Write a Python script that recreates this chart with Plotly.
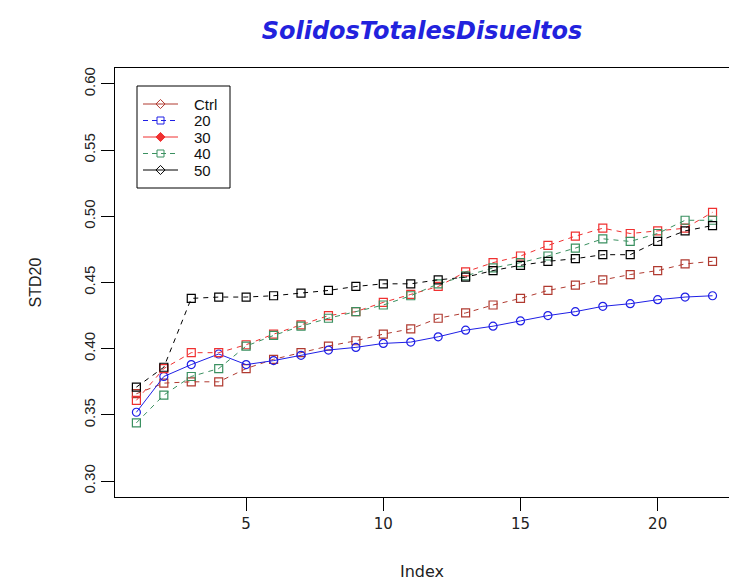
import plotly.graph_objects as go

index = list(range(1, 23))
ctrl = [0.366, 0.374, 0.375, 0.375, 0.385, 0.392, 0.397, 0.402, 0.406, 0.411, 0.415, 0.423, 0.427, 0.433, 0.438, 0.444, 0.448, 0.452, 0.456, 0.459, 0.464, 0.466]
s20 = [0.352, 0.379, 0.388, 0.396, 0.388, 0.391, 0.395, 0.399, 0.401, 0.404, 0.405, 0.409, 0.414, 0.417, 0.421, 0.425, 0.428, 0.432, 0.434, 0.437, 0.439, 0.440]
s30 = [0.361, 0.385, 0.397, 0.397, 0.403, 0.411, 0.418, 0.425, 0.428, 0.435, 0.441, 0.447, 0.458, 0.465, 0.470, 0.478, 0.485, 0.491, 0.487, 0.489, 0.491, 0.503]
s40 = [0.344, 0.365, 0.379, 0.385, 0.402, 0.410, 0.417, 0.423, 0.428, 0.433, 0.440, 0.449, 0.455, 0.461, 0.465, 0.470, 0.476, 0.483, 0.481, 0.487, 0.497, 0.497]
s50 = [0.371, 0.386, 0.438, 0.439, 0.439, 0.440, 0.442, 0.444, 0.447, 0.449, 0.449, 0.452, 0.454, 0.459, 0.463, 0.466, 0.468, 0.471, 0.471, 0.481, 0.489, 0.493]

names = ["Ctrl", "20", "30", "40", "50"]
series = [ctrl, s20, s30, s40, s50]
colors = ["#B03A30", "#1F1FE6", "#F03030", "#3A9060", "#000000"]
plot_dash = ["5px,5px", "solid", "5px,5px", "5px,5px", "5px,5px"]
plot_symbol = ["square-open", "circle-open", "square-open", "square-open", "square-open"]
leg_dash = ["solid", "5px,4px", "solid", "5px,4px", "solid"]
leg_symbol = ["diamond-open", "square-open", "diamond", "square-open", "diamond-open"]

yticks = [0.30, 0.35, 0.40, 0.45, 0.50, 0.55, 0.60]
ytext = ["0.30", "0.35", "0.40", "0.45", "0.50", "0.55", "0.60"]
xticks = [5, 10, 15, 20]

# plot area in pixels
W, H = 729, 584
L, R, T, B = 115, 729, 68, 497

# manual legend geometry (pixel coordinates of the overlay axis)
LEG_BOX = (137, 230, 86, 188)
LEG_ROWS = [104, 120.5, 137, 153.5, 170]
LEG_LINE = (143, 178)
LEG_TEXT_X = 192

fig = go.Figure()
for nm, ys, c, d, sym in zip(names, series, colors, plot_dash, plot_symbol):
    fig.add_trace(go.Scatter(
        x=index, y=ys, mode="lines+markers", name=nm, showlegend=False,
        line=dict(color=c, width=1, dash=d),
        marker=dict(symbol=sym, size=8, color=c, line=dict(width=1.2, color=c)),
    ))

# legend box
fig.add_shape(type="rect", xref="x2", yref="y2",
              x0=LEG_BOX[0], x1=LEG_BOX[1], y0=LEG_BOX[2], y1=LEG_BOX[3],
              line=dict(color="black", width=1), fillcolor="white", layer="below")
for nm, c, d, sym, ry in zip(names, colors, leg_dash, leg_symbol, LEG_ROWS):
    fig.add_trace(go.Scatter(
        x=[LEG_LINE[0], LEG_LINE[1]], y=[ry, ry], mode="lines", xaxis="x2", yaxis="y2",
        showlegend=False, hoverinfo="skip", line=dict(color=c, width=1, dash=d)))
    fig.add_trace(go.Scatter(
        x=[(LEG_LINE[0] + LEG_LINE[1]) / 2], y=[ry], mode="markers", xaxis="x2", yaxis="y2",
        showlegend=False, hoverinfo="skip",
        marker=dict(symbol=sym, size=7, color=c, line=dict(width=1, color=c))))
    fig.add_annotation(x=LEG_TEXT_X, y=ry, xref="x2", yref="y2", text=nm, showarrow=False,
                       xanchor="left", yanchor="middle",
                       font=dict(family="Liberation Sans, Arial, sans-serif", size=15, color="#111111"))

fig.update_layout(
    width=W, height=H,
    margin=dict(l=L, r=W - R, t=T, b=H - B),
    paper_bgcolor="white", plot_bgcolor="white",
    font=dict(family="Liberation Sans, Arial, sans-serif", size=15, color="#222222"),
    title=dict(text="<b><i>SolidosTotalesDisueltos</i></b>", x=0.5, xref="paper",
               y=1 - 31 / H, yref="container", xanchor="center", yanchor="middle",
               font=dict(family="DejaVu Sans, sans-serif", size=24, color="#2222DD")),
    showlegend=False,
    xaxis=dict(range=[0.22, 22.6], tickvals=xticks, ticks="outside", ticklen=13,
               tickcolor="black", showline=True, linecolor="black", linewidth=1,
               mirror=True, showgrid=False, zeroline=False,
               tickfont=dict(family="DejaVu Sans, sans-serif", size=15, color="#222222"),
               title=dict(text="Index", standoff=33,
                          font=dict(family="DejaVu Sans, sans-serif", size=16, color="#222222"))),
    yaxis=dict(range=[0.288, 0.612], tickvals=yticks, ticktext=ytext, tickangle=-90,
               ticks="outside", ticklen=13, tickcolor="black", showline=True,
               linecolor="black", linewidth=1, showgrid=False, zeroline=False,
               tickfont=dict(family="Liberation Sans, Arial, sans-serif", size=15, color="#222222"),
               title=dict(text="STD20", standoff=35,
                          font=dict(family="Liberation Sans, Arial, sans-serif", size=16, color="#222222"))),
    xaxis2=dict(overlaying="x", range=[L, R], visible=False, fixedrange=True),
    yaxis2=dict(overlaying="y", range=[B, T], visible=False, fixedrange=True),
)

fig.write_html("out.html")
